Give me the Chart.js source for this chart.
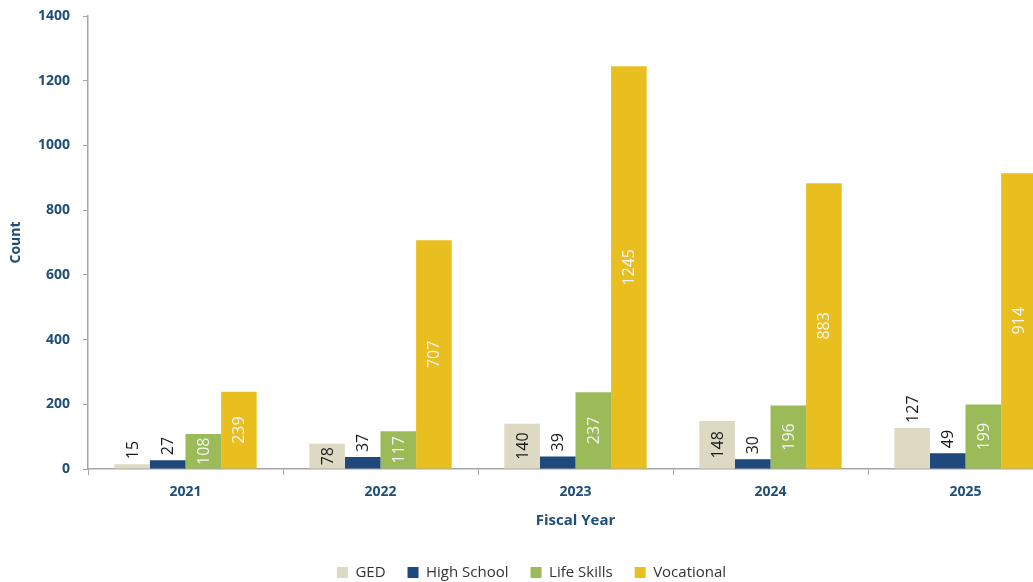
<!DOCTYPE html>
<html>
<head>
<meta charset="utf-8">
<script src="https://cdn.jsdelivr.net/npm/chart.js@4/dist/chart.umd.min.js"></script>
<style>
  html, body { margin: 0; padding: 0; background: #ffffff; overflow: hidden; }
  #wrap { width: 1072px; height: 590px; }
</style>
</head>
<body>
<div id="wrap"><canvas id="chart" width="1072" height="590"></canvas></div>
<script>
  // data
  const years = ["2021", "2022", "2023", "2024", "2025"];
  const ged = [15, 78, 140, 148, 127];
  const highSchool = [27, 37, 39, 30, 49];
  const lifeSkills = [108, 117, 237, 196, 199];
  const vocational = [239, 707, 1245, 883, 914];
  const yTicks = [0, 200, 400, 600, 800, 1000, 1200, 1400];

  const axisBlue = "#1f4e79";
  const axisGrey = "#a6a6a6";

  // which labels sit above the bar instead of inside it (dataset index -> point indexes)
  const labelsAbove = { 0: [0, 4], 1: [0, 1, 2, 3, 4] };

  const barLabels = {
    id: "barLabels",
    afterDatasetsDraw(chart) {
      const ctx = chart.ctx;
      ctx.save();
      ctx.font = '16px "Open Sans"';
      chart.data.datasets.forEach(function (ds, di) {
        const meta = chart.getDatasetMeta(di);
        meta.data.forEach(function (bar, i) {
          const text = String(ds.data[i]);
          const w = ctx.measureText(text).width;
          const above = (labelsAbove[di] || []).indexOf(i) >= 0;
          let cy = above ? bar.y - 5 - w / 2 : (bar.y + bar.base) / 2;
          ctx.save();
          ctx.translate(bar.x, cy);
          ctx.rotate(-Math.PI / 2);
          ctx.textAlign = "center";
          ctx.textBaseline = "middle";
          ctx.fillStyle = (above || di < 2) ? "#1a1a1a" : "#f4f4f4";
          ctx.fillText(text, 0, 1);
          ctx.restore();
        });
      });
      ctx.restore();
    },
  };

  const ctx = document.getElementById("chart").getContext("2d");
  const chart1 = new Chart(ctx, {
    type: "bar",
    data: {
      labels: years,
      datasets: [
        { label: "GED", data: ged, backgroundColor: "#ddd9c3" },
        { label: "High School", data: highSchool, backgroundColor: "#1f497d" },
        { label: "Life Skills", data: lifeSkills, backgroundColor: "#9bbb59" },
        { label: "Vocational", data: vocational, backgroundColor: "#e9bf1f" },
      ],
    },
    options: {
      responsive: false,
      animation: false,
      datasets: {
        bar: { barPercentage: 1, categoryPercentage: 0.73 },
      },
      layout: { padding: { top: 16, right: 9, bottom: 0, left: 0 } },
      plugins: {
        tooltip: { enabled: false },
        legend: {
          position: "bottom",
          labels: {
            boxWidth: 11,
            boxHeight: 11,
            padding: 22,
            color: "#333333",
            font: { family: "Open Sans", size: 15 },
          },
        },
      },
      scales: {
        x: {
          afterFit: function (scale) { scale.height = 74; },
          grid: {
            display: true,
            drawOnChartArea: false,
            offset: true,
            tickLength: 6,
            color: axisGrey,
          },
          border: { color: axisGrey, width: 1.5 },
          ticks: {
            padding: 9,
            color: axisBlue,
            font: { family: "Open Sans", size: 14, weight: "bold" },
          },
          title: {
            display: true,
            text: "Fiscal Year",
            color: axisBlue,
            padding: { top: 4, bottom: 13 },
            font: { family: "Open Sans", size: 15, weight: "bold" },
          },
        },
        y: {
          min: 0,
          max: 1400,
          afterFit: function (scale) {
            scale.width = 88;
            scale.paddingTop = 0;
            scale.paddingBottom = 0;
          },
          afterBuildTicks: function (scale) {
            scale.ticks = yTicks.map(function (v) { return { value: v }; });
          },
          grid: {
            display: true,
            drawOnChartArea: false,
            tickLength: 5,
            color: axisGrey,
          },
          border: { color: axisGrey, width: 1.5 },
          ticks: {
            padding: 13,
            color: axisBlue,
            font: { family: "Open Sans", size: 14, weight: "bold" },
            callback: function (v) { return String(v); },
          },
          title: {
            display: true,
            text: "Count",
            color: axisBlue,
            padding: { top: 8, bottom: 4 },
            font: { family: "Open Sans", size: 14, weight: "bold" },
          },
        },
      },
    },
    plugins: [barLabels],
  });
</script>
</body>
</html>
